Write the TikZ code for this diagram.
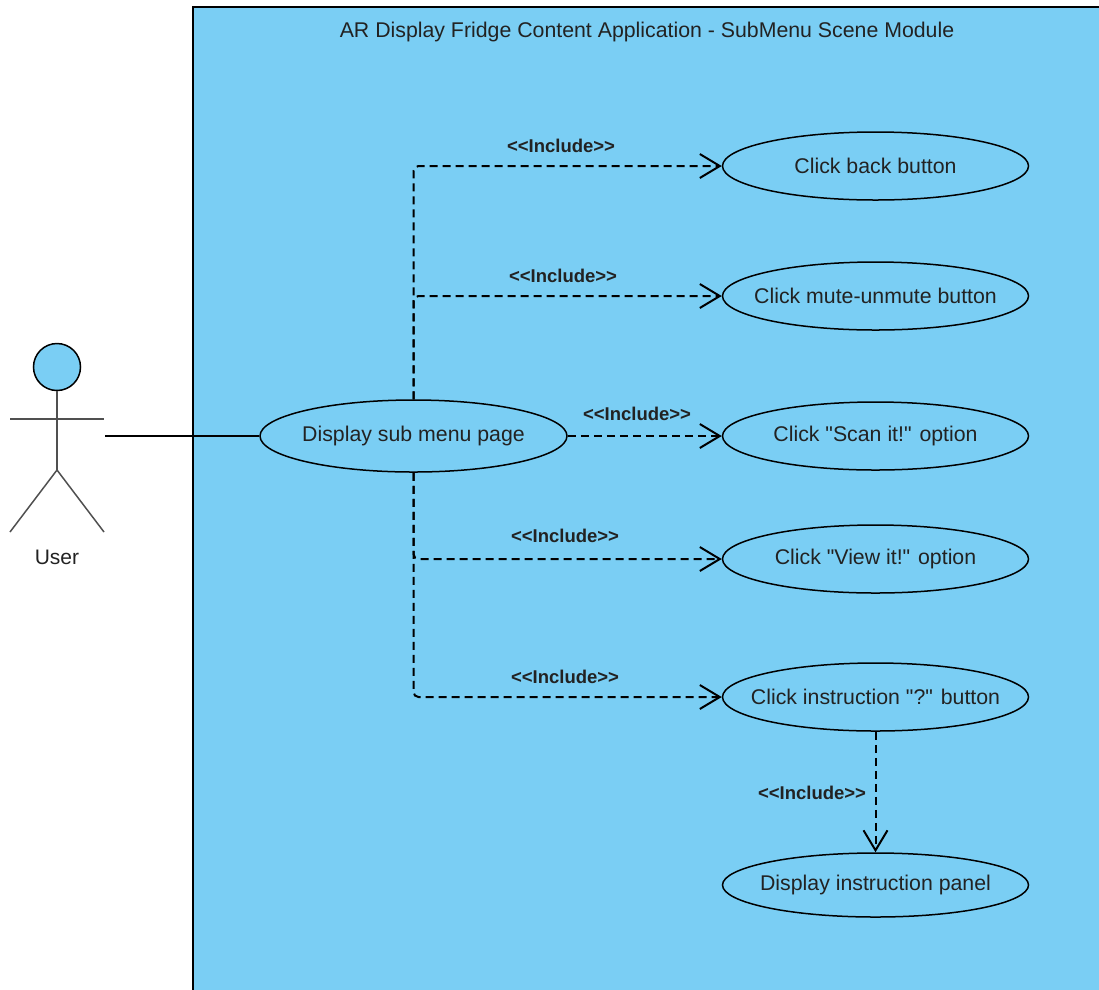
\documentclass[tikz,border=0pt]{standalone}
\usepackage{fontspec}
\setmainfont{Liberation Sans}
\usetikzlibrary{shapes.geometric,arrows.meta}
\definecolor{ucfill}{RGB}{122,206,244}
\definecolor{txt}{RGB}{34,34,34}
\definecolor{actorgray}{RGB}{80,80,80}
\newcommand{\zw}[1]{\makebox[0pt]{#1}}
\tikzset{
  usecase/.style={ellipse, draw=black, line width=1.5pt, fill=ucfill, minimum width=306pt, minimum height=68pt, inner sep=0pt, text=txt, font=\fontsize{21.3}{25}\selectfont},
  incl/.style={draw=black, line width=2pt, dash pattern=on 8pt off 5pt, rounded corners=5pt, -{Straight Barb[length=20pt,width=24pt,line width=2pt]}},
  incllabel/.style={text=txt, font=\bfseries\fontsize{18.5}{22}\selectfont, inner sep=0pt},
  actorline/.style={draw=actorgray, line width=1.5pt}
}
\begin{document}
\begin{tikzpicture}[x=1pt,y=-1pt]
\useasboundingbox (0,0) rectangle (1099,989);
\clip (0,0) rectangle (1099,989);
% system boundary
\draw[fill=ucfill, line width=1.8pt] (193,7) rectangle (1120,1010);
\node[text=txt, font=\fontsize{21.3}{25}\selectfont, inner sep=0pt] (title) at (647,32) {AR Display Fridge Content Application - SubMenu Scene Module};
% actor
\node[circle, draw=black, line width=1.5pt, fill=ucfill, minimum size=47pt, inner sep=0pt] (head) at (57,367) {};
\coordinate (hip) at (57,470);
\coordinate (armL) at (10,419);
\coordinate (armR) at (104,419);
\coordinate (legL) at (10,532);
\coordinate (legR) at (104,532);
\draw[actorline] (head.south) -- (hip);
\draw[actorline] (armL) -- (armR);
\draw[actorline] (legL) -- (hip) -- (legR);
\node[text=txt, font=\fontsize{21}{25}\selectfont, inner sep=0pt] (user) at (57,557) {User};
\coordinate (actorR) at (105,436);
% use cases
\node[usecase, minimum width=307pt, minimum height=72pt] (sub) at (413.5,436) {\zw{Display sub menu page}};
\node[usecase] (back) at (875.5,166) {\zw{Click back button}};
\node[usecase] (mute) at (875.5,296) {\zw{Click mute-unmute button}};
\node[usecase] (scan) at (875.5,436) {\zw{Click \textquotedbl Scan it!\textquotedbl{} option}};
\node[usecase] (view) at (875.5,559) {\zw{Click \textquotedbl View it!\textquotedbl{} option}};
\node[usecase] (instr) at (875.5,697) {\zw{Click instruction \textquotedbl ?\textquotedbl{} button}};
\node[usecase, minimum height=64pt] (panel) at (875.5,885) {\zw{Display instruction panel}};
% association
\draw[black, line width=2pt] (actorR) -- (sub.west);
% includes
\draw[incl] (sub.north) |- (back.west);
\draw[incl] (sub.north) |- (mute.west);
\draw[incl, rounded corners=0pt] (sub.east) -- (scan.west);
\draw[incl] (sub.south) |- (view.west);
\draw[incl] (sub.south) |- (instr.west);
\draw[incl] (instr.south) -- (panel.north);
\node[incllabel] (l1) at (561,146) {<{}<Include>{}>};
\node[incllabel] (l2) at (563,276) {<{}<Include>{}>};
\node[incllabel] (l3) at (637,414) {<{}<Include>{}>};
\node[incllabel] (l4) at (565,536) {<{}<Include>{}>};
\node[incllabel] (l5) at (565,677) {<{}<Include>{}>};
\node[incllabel] (l6) at (812,793) {<{}<Include>{}>};
\end{tikzpicture}
\end{document}
